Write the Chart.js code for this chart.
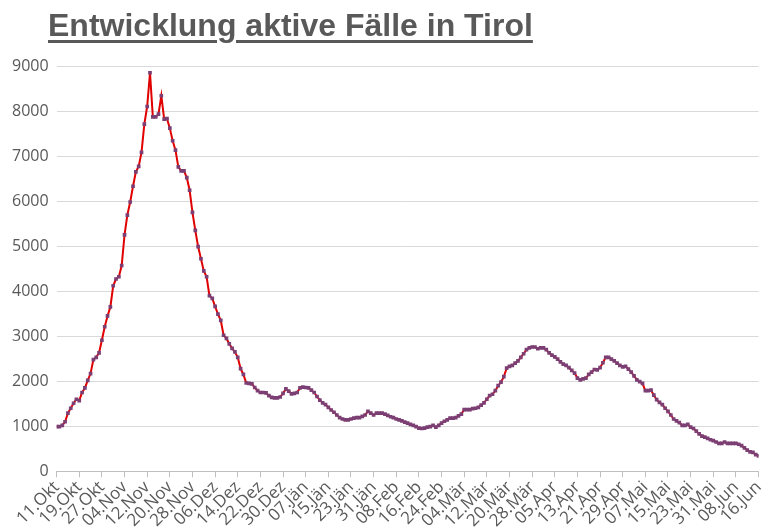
<!DOCTYPE html>
<html>
<head>
<meta charset="utf-8">
<script src="https://cdn.jsdelivr.net/npm/chart.js@4"></script>
<style>
  html, body { margin: 0; padding: 0; background: #fff; }
  #wrap { position: relative; width: 773px; height: 531px; }
  #title {
    position: absolute; left: 48px; top: 7px;
    font: bold 32px "Liberation Sans", Arial, sans-serif;
    color: #595959; text-decoration: underline; text-underline-offset: 4px;
  }
</style>
</head>
<body>
<div id="wrap">
  <div id="title">Entwicklung aktive Fälle in Tirol</div>
  <canvas id="chart" width="773" height="531"></canvas>
</div>
<script>
  // daily active cases, 11 Okt .. 16 Jun
  const autumnValues = [
    992, 990, 1020, 1100, 1290, 1400, 1510, 1600, 1570, 1750,
    1850, 2020, 2170, 2480, 2530, 2630, 2910, 3210, 3450, 3650,
    4120, 4270, 4320, 4570, 5250, 5690, 5980, 6330, 6650, 6770,
    7080, 7710, 8100, 8850, 7870, 7870, 7930, 8340, 7820, 7830,
    7620, 7340, 7130, 6760, 6670, 6670, 6520, 6240, 5750, 5350,
    4990, 4720, 4450, 4320, 3900, 3840, 3660, 3490, 3350, 3020,
    2950, 2830, 2730, 2650, 2530, 2280, 2150, 1960
  ];
  const winterValues = [
    1950, 1940, 1860, 1790, 1750, 1750, 1740, 1680, 1640,
    1630, 1630, 1650, 1730, 1830, 1780, 1720, 1730, 1750, 1850,
    1870, 1860, 1850, 1800, 1750, 1660, 1580, 1520, 1480, 1420,
    1360, 1310, 1250, 1190, 1160, 1140, 1140, 1160, 1180, 1190,
    1190, 1220, 1250, 1330, 1290, 1250, 1290, 1290, 1290,
    1270, 1240, 1210, 1190, 1160, 1140, 1120, 1090, 1070, 1040,
    1020, 990, 960, 950, 960, 980, 990, 1020, 980, 1020,
    1070, 1110, 1140, 1180, 1180, 1190, 1230, 1270, 1370, 1370,
    1370, 1390, 1400, 1420, 1470, 1520, 1600, 1680, 1710, 1790,
    1900, 1980, 2100, 2290, 2330
  ];
  const springValues = [
    2350, 2400, 2450, 2530, 2610, 2700, 2740, 2760, 2760, 2720,
    2740, 2740, 2700, 2630, 2580, 2540, 2490, 2430, 2380, 2350,
    2300, 2240, 2180, 2070, 2030, 2050, 2070, 2150, 2200, 2260,
    2250, 2300, 2410, 2530, 2530, 2490, 2450, 2400, 2350, 2320,
    2330, 2270, 2200, 2120, 2030, 1990, 1950, 1790, 1790, 1800,
    1690, 1590, 1530, 1480, 1400, 1330, 1250, 1160, 1120, 1080,
    1020, 1020, 1040, 980, 950, 890, 830, 780, 760, 730,
    700, 680, 650, 620, 620, 650, 620, 620, 620, 620,
    600, 570, 520, 470, 430, 420, 370, 340
  ];
  const tickLabels = [
    '11.Okt', '19.Okt', '27.Okt', '04.Nov', '12.Nov', '20.Nov', '28.Nov', '06.Dez',
    '14.Dez', '22.Dez', '30.Dez', '07.Jän', '15.Jän', '23.Jän', '31.Jän', '08.Feb',
    '16.Feb', '24.Feb', '04.Mär', '12.Mär', '20.Mär', '28.Mär', '05.Apr', '13.Apr',
    '21.Apr', '29.Apr', '07.Mai', '15.Mai', '23.Mai', '31.Mai', '08.Jun', '16.Jun'
  ];
  const TICK_STEP = 8;

  const values = autumnValues.concat(winterValues, springValues);
  const points = values.map((v, i) => ({ x: i, y: v }));

  const ctx = document.getElementById('chart').getContext('2d');
  new Chart(ctx, {
    type: 'line',
    data: {
      datasets: [{
        data: points,
        borderColor: '#e00000',
        borderWidth: 2,
        tension: 0,
        pointStyle: 'rect',
        pointRadius: 2.6,
        pointBackgroundColor: '#7b3f74',
        pointBorderColor: '#7b3f74',
        pointBorderWidth: 0
      }]
    },
    options: {
      responsive: false,
      animation: false,
      layout: { padding: { top: 66, right: 6, left: 4, bottom: 0 } },
      plugins: { legend: { display: false }, tooltip: { enabled: false } },
      scales: {
        x: {
          type: 'linear',
          min: 0,
          max: values.length - 1,
          grid: { drawOnChartArea: false, color: '#bfbfbf', tickLength: 6 },
          border: { color: '#bfbfbf' },
          ticks: {
            stepSize: TICK_STEP,
            autoSkip: false,
            maxRotation: 45,
            minRotation: 45,
            color: '#595959',
            font: { family: 'Open Sans', size: 17 },
            padding: 0,
            callback: v => tickLabels[v / TICK_STEP] || ''
          }
        },
        y: {
          min: 0,
          max: 9000,
          grid: { color: '#d9d9d9', drawTicks: false },
          border: { display: false },
          ticks: {
            stepSize: 1000,
            color: '#595959',
            font: { family: 'Open Sans', size: 16 },
            padding: 8,
            callback: v => String(v)
          }
        }
      }
    }
  });
</script>
</body>
</html>
